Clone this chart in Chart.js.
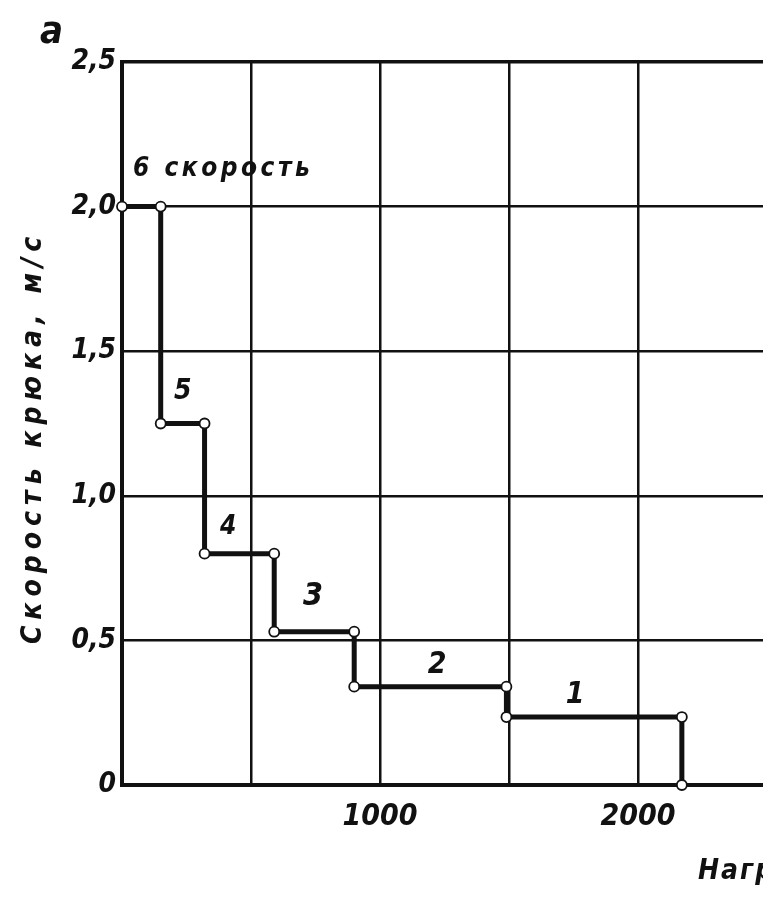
<!DOCTYPE html>
<html>
<head>
<meta charset="utf-8">
<script src="https://cdn.jsdelivr.net/npm/chart.js@4.4.1/dist/chart.umd.min.js"></script>
<style>
  html, body { margin: 0; padding: 0; background: #fff; overflow: hidden; }
  #wrap { width: 790px; height: 899px; }
</style>
</head>
<body>
<div id="wrap"><canvas id="chart" width="790" height="899"></canvas></div>
<script>
// Gears (speed steps), hook speed on each step and the load where the step ends
const gears = ['6', '5', '4', '3', '2', '1'];
const gearSpeed = [2.0, 1.25, 0.80, 0.53, 0.34, 0.235];   // m/s
const gearMaxLoad = [150, 320, 590, 900, 1490, 2170];     // kN

// Tick values
const xTicks = [0, 500, 1000, 1500, 2000, 2500];
const xTickLabels = ['', '', '1000', '', '2000', ''];
const yTicks = [0, 0.5, 1.0, 1.5, 2.0, 2.5];
const yTickLabels = ['0', '0,5', '1,0', '1,5', '2,0', '2,5'];

// Text on the chart
const stepLabels = ['6 скорость', '5', '4', '3', '2', '1'];
const yTitle = 'Скорость крюка, м/с';
const xTitle = 'Нагрузка на крюке, кН';
const figLetter = 'а';

// Build the step line from the arrays
let stepPoints = [];
let prevLoad = 0;
for (let i = 0; i < gears.length; i++) {
  stepPoints.push({ x: prevLoad, y: gearSpeed[i] });
  stepPoints.push({ x: gearMaxLoad[i], y: gearSpeed[i] });
  prevLoad = gearMaxLoad[i];
}
stepPoints.push({ x: prevLoad, y: 0 });

// where the step labels sit (data coords), kept apart from the data
const labelSpots = [
  { x: 392, y: 2.13, size: 26, spacing: 3.5 },
  { x: 236, y: 1.36, size: 28, spacing: 0 },
  { x: 411, y: 0.89, size: 26, spacing: 0 },
  { x: 740, y: 0.65, size: 32, spacing: 0 },
  { x: 1221, y: 0.415, size: 30, spacing: 0 },
  { x: 1756, y: 0.31, size: 30, spacing: 0 }
];

const FONT = '"DejaVu Sans Condensed", "DejaVu Sans", sans-serif';
const INK = '#111';

// draws labels and titles (letter spaced like the drawing)
const textPlugin = {
  id: 'texts',
  afterDraw(chart) {
    const ctx = chart.ctx;
    const xs = chart.scales.x, ys = chart.scales.y;
    const area = chart.chartArea;
    ctx.save();
    ctx.fillStyle = INK;
    ctx.textBaseline = 'middle';

    for (let i = 0; i < stepLabels.length; i++) {
      const s = labelSpots[i];
      ctx.font = 'italic bold ' + s.size + 'px ' + FONT;
      ctx.letterSpacing = s.spacing + 'px';
      ctx.textAlign = 'center';
      ctx.fillText(stepLabels[i], xs.getPixelForValue(s.x), ys.getPixelForValue(s.y));
    }

    // y axis title
    ctx.save();
    ctx.translate(34, (area.top + area.bottom) / 2 + 14);
    ctx.rotate(-Math.PI / 2);
    ctx.font = 'italic bold 28px ' + FONT;
    ctx.letterSpacing = '6px';
    ctx.textAlign = 'center';
    ctx.fillText(yTitle, 0, 0);
    ctx.restore();

    // x axis title (runs off the page like the scan)
    ctx.font = 'italic bold 28px ' + FONT;
    ctx.letterSpacing = '2px';
    ctx.textAlign = 'left';
    ctx.fillText(xTitle, 698, 872);

    // figure letter
    ctx.font = 'italic bold 38px ' + FONT;
    ctx.letterSpacing = '0px';
    ctx.fillText(figLetter, 40, 33);

    ctx.restore();
  }
};

const ctx = document.getElementById('chart');

let speedChart = new Chart(ctx, {
  type: 'line',
  data: {
    datasets: [
      {
        data: stepPoints,
        borderColor: INK,
        borderWidth: 5,
        tension: 0,
        pointRadius: 5,
        pointBackgroundColor: '#fff',
        pointBorderColor: INK,
        pointBorderWidth: 1.8,
        clip: false
      }
    ]
  },
  options: {
    responsive: false,
    animation: false,
    events: [],
    layout: {
      padding: { left: 0, top: 62, right: 23, bottom: 54 }
    },
    plugins: {
      legend: { display: false },
      tooltip: { enabled: false }
    },
    scales: {
      x: {
        type: 'linear',
        min: 0,
        max: 2500,
        afterBuildTicks(scale) {
          scale.ticks = xTicks.map(v => ({ value: v }));
        },
        afterFit(scale) { scale.height = 60; },
        ticks: {
          autoSkip: false,
          maxRotation: 0,
          padding: 14,
          color: INK,
          font: { family: FONT, size: 30, style: 'italic', weight: 'bold' },
          callback: (v) => xTickLabels[xTicks.indexOf(v)]
        },
        grid: { color: INK, lineWidth: 2.5, drawTicks: false },
        border: { display: true, color: INK, width: 4 }
      },
      y: {
        type: 'linear',
        min: 0,
        max: 2.5,
        afterBuildTicks(scale) {
          scale.ticks = yTicks.map(v => ({ value: v }));
        },
        afterFit(scale) { scale.width = 122; },
        ticks: {
          autoSkip: false,
          padding: 6,
          color: INK,
          font: { family: FONT, size: 28, style: 'italic', weight: 'bold' },
          callback: (v) => yTickLabels[yTicks.indexOf(v)]
        },
        grid: {
          color: INK,
          lineWidth: (c) => (c.tick && c.tick.value === 2.5 ? 3.5 : 2.5),
          drawTicks: false
        },
        border: { display: true, color: INK, width: 4 }
      }
    }
  },
  plugins: [textPlugin]
});
</script>
</body>
</html>
